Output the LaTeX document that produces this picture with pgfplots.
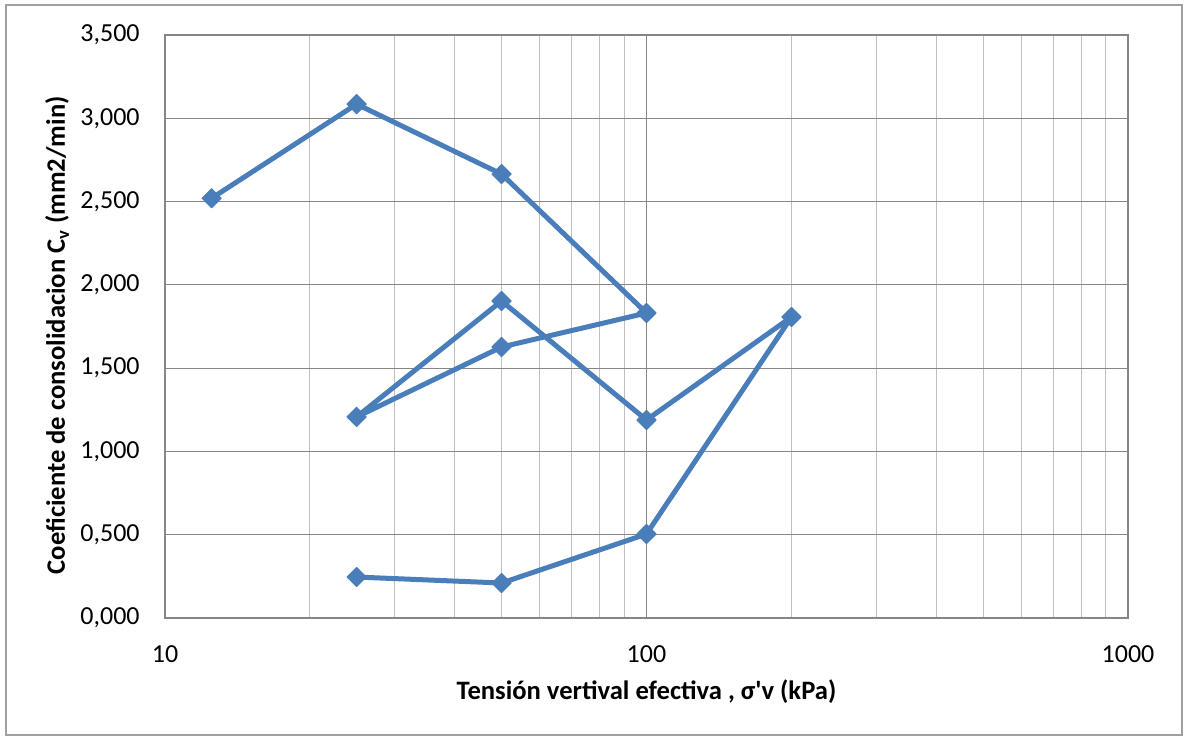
\documentclass[border=0pt]{standalone}
\usepackage{fontspec}
\setmainfont{Carlito}
\usepackage{pgfplots}
\pgfplotsset{compat=1.18}
\definecolor{serie}{RGB}{74,126,187}
\definecolor{majgrid}{RGB}{134,134,134}
\definecolor{mingrid}{RGB}{191,191,191}
\definecolor{marco}{RGB}{160,160,160}
\begin{document}
\begin{tikzpicture}
\useasboundingbox (-82.5pt,-61pt) rectangle (509.5pt,309pt);
\draw[marco, line width=0.6pt] (-79.5pt,-58.5pt) rectangle (508.5pt,306.5pt);
\begin{axis}[
  xmode=log,
  scale only axis,
  width=481.5pt, height=291.5pt,
  xmin=10, xmax=1000,
  ymin=0, ymax=3.5,
  xtick={10,100,1000},
  xticklabels={10,100,1000},
  ytick distance=0.5,
  minor xtick={20,30,40,50,60,70,80,90,200,300,400,500,600,700,800,900},
  xmajorgrids, ymajorgrids, xminorgrids,
  major grid style={majgrid, line width=0.5pt},
  minor grid style={mingrid, line width=0.5pt},
  axis line style={majgrid, line width=0.6pt},
  major tick length=0pt, minor tick length=0pt,
  tick style={draw=none},
  y tick label style={/pgf/number format/fixed, /pgf/number format/fixed zerofill,
    /pgf/number format/precision=3, /pgf/number format/use comma,
    /pgf/number format/1000 sep={}, /pgf/number format/assume math mode=true},
  tick label style={font=\fontsize{13}{15}\selectfont},
  xticklabel style={anchor=north, inner sep=0pt, yshift=-13.5pt},
  yticklabel style={anchor=east, inner sep=0pt, xshift=-12.5pt},
  xlabel={Tensión vertival efectiva , σ\textquotesingle v (kPa)},
  ylabel={Coeficiente de consolidacion C\textsubscript{v} (mm2/min)},
  label style={font=\fontsize{13.3}{15}\selectfont\bfseries},
  xlabel style={at={(axis description cs:0.5,-0.127)}, anchor=center},
  ylabel style={at={(axis description cs:-0.112,0.485)}, anchor=center},
]
\addplot[serie, line width=2.5pt, line join=round,
  mark=square*, mark size=3.4pt,
  mark options={rotate=45, fill=serie, draw=serie, line width=0.5pt}]
  coordinates {
  (12.5,2.520) (25,3.085) (50,2.665) (100,1.831) (50,1.627) (25,1.207)
  (50,1.903) (100,1.189) (200,1.807) (100,0.504) (50,0.210) (25,0.246)
  };
\end{axis}
\end{tikzpicture}
\end{document}
